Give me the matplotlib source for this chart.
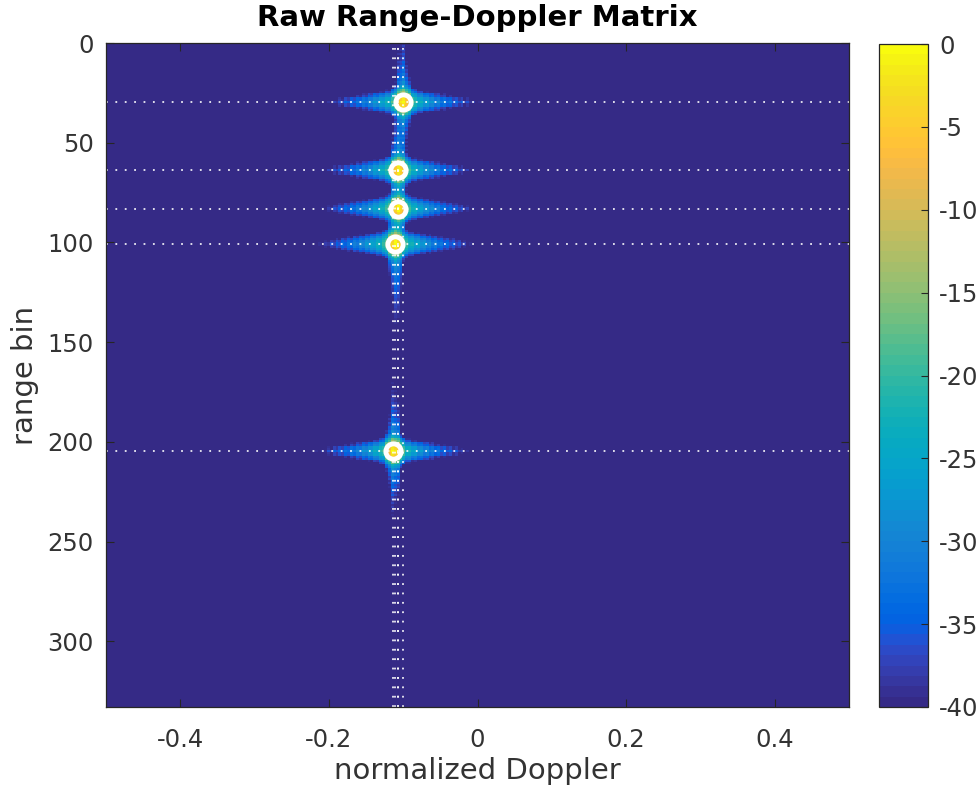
import numpy as np
import matplotlib
matplotlib.use("Agg")
import matplotlib.pyplot as plt
from matplotlib.colors import ListedColormap

plt.rcParams["axes.unicode_minus"] = False

# Detected targets: range bin, normalized Doppler, peak level (dB)
target_range = [29.5, 63.5, 83.0, 101.0, 204.5]
target_doppler = [-0.1007, -0.1066, -0.1073, -0.1110, -0.1133]
target_peak_db = [0.0, 0.0, 0.0, 0.0, 0.0]

n_range = 333
n_doppler = 256
db_floor, db_top = -40, 0

x_ticks = [-0.4, -0.2, 0, 0.2, 0.4]
x_tick_labels = ["-0.4", "-0.2", "0", "0.2", "0.4"]
y_ticks = [0, 50, 100, 150, 200, 250, 300]
cbar_ticks = [0, -5, -10, -15, -20, -25, -30, -35, -40]

# parula (64 levels)
parula = np.array([
    [0.2081, 0.1663, 0.5292], [0.2116, 0.1898, 0.5777], [0.2123, 0.2138, 0.6270],
    [0.2081, 0.2386, 0.6771], [0.1959, 0.2645, 0.7279], [0.1707, 0.2919, 0.7792],
    [0.1253, 0.3242, 0.8303], [0.0591, 0.3598, 0.8683], [0.0117, 0.3875, 0.8820],
    [0.0060, 0.4086, 0.8828], [0.0165, 0.4266, 0.8786], [0.0329, 0.4430, 0.8720],
    [0.0498, 0.4586, 0.8641], [0.0629, 0.4737, 0.8554], [0.0723, 0.4887, 0.8467],
    [0.0779, 0.5040, 0.8384], [0.0793, 0.5200, 0.8312], [0.0749, 0.5375, 0.8263],
    [0.0641, 0.5570, 0.8240], [0.0488, 0.5772, 0.8228], [0.0343, 0.5966, 0.8199],
    [0.0265, 0.6137, 0.8135], [0.0239, 0.6287, 0.8038], [0.0231, 0.6418, 0.7913],
    [0.0228, 0.6535, 0.7768], [0.0267, 0.6642, 0.7607], [0.0384, 0.6743, 0.7436],
    [0.0590, 0.6838, 0.7254], [0.0843, 0.6928, 0.7062], [0.1133, 0.7015, 0.6859],
    [0.1453, 0.7098, 0.6646], [0.1801, 0.7177, 0.6424], [0.2178, 0.7250, 0.6193],
    [0.2586, 0.7317, 0.5954], [0.3022, 0.7376, 0.5712], [0.3482, 0.7424, 0.5473],
    [0.3953, 0.7459, 0.5244], [0.4420, 0.7481, 0.5033], [0.4871, 0.7491, 0.4840],
    [0.5300, 0.7491, 0.4661], [0.5709, 0.7485, 0.4494], [0.6099, 0.7473, 0.4337],
    [0.6473, 0.7456, 0.4188], [0.6834, 0.7435, 0.4044], [0.7184, 0.7411, 0.3905],
    [0.7525, 0.7384, 0.3768], [0.7858, 0.7356, 0.3633], [0.8185, 0.7327, 0.3498],
    [0.8507, 0.7299, 0.3360], [0.8824, 0.7274, 0.3217], [0.9139, 0.7258, 0.3063],
    [0.9450, 0.7261, 0.2886], [0.9739, 0.7314, 0.2666], [0.9938, 0.7455, 0.2403],
    [0.9990, 0.7653, 0.2164], [0.9955, 0.7861, 0.1967], [0.9880, 0.8066, 0.1794],
    [0.9789, 0.8271, 0.1633], [0.9697, 0.8481, 0.1475], [0.9626, 0.8705, 0.1309],
    [0.9589, 0.8949, 0.1132], [0.9598, 0.9218, 0.0948], [0.9661, 0.9514, 0.0755],
    [0.9763, 0.9831, 0.0538]])
cmap = ListedColormap(parula, name="parula")


def doppler_response(dd):
    """Main lobe plus Doppler sidelobes (linear power)."""
    tail = 3.3e-6 / (dd ** 2 + 1e-4) * np.exp(-(dd / 0.1) ** 2)
    return np.exp(-(dd / 0.006) ** 2) + tail


def range_response(dr):
    """Main lobe plus range sidelobe tail (linear power)."""
    return np.exp(-(dr / 3.0) ** 2) + 0.23 * (1.0 + dr ** 2) ** -1.08


# Range-Doppler power map built from the point-target responses
dop = -0.5 + (np.arange(n_doppler) + 0.5) / n_doppler
rng = np.arange(n_range) + 0.5
D, R = np.meshgrid(dop, rng)
power = np.full(D.shape, 1e-9)
for r0, d0, pk in zip(target_range, target_doppler, target_peak_db):
    dd = D - d0
    dr = R - r0
    kd = np.rint(dd * n_doppler).astype(int)
    kr = np.rint(dr).astype(int)
    gd = doppler_response(dd) * np.where(kd % 2 == 0, 1.0, 0.65)
    gr = range_response(dr) * np.where(kr % 2 == 0, 1.0, 0.7)
    power += 10 ** (pk / 10) * gd * gr
rd_db = np.clip(10 * np.log10(power), db_floor, db_top)

text_col = "#333333"
fig = plt.figure(figsize=(9.8, 7.91), dpi=100)
ax = fig.add_axes([0.1082, 0.1062, 0.7582, 0.8394])
im = ax.imshow(rd_db, cmap=cmap, vmin=db_floor, vmax=db_top, aspect="auto",
               interpolation="nearest", extent=(-0.5, 0.5, n_range, 0))

dots = (0, (1.0, 4.2))
for r0 in target_range:
    ax.axhline(r0, color="white", lw=1.3, ls=dots, alpha=0.9)
for d0 in target_doppler:
    ax.axvline(d0, color="white", lw=1.3, ls=dots, alpha=0.9)
ax.plot(target_doppler, target_range, "o", mfc="none", mec="white", ms=11, mew=3.5)

ax.set_xlim(-0.5, 0.5)
ax.set_ylim(n_range, 0)
ax.set_xticks(x_ticks)
ax.set_xticklabels(x_tick_labels)
ax.set_yticks(y_ticks)
ax.tick_params(direction="in", length=6, width=0.8, top=True, right=True,
               labelsize=17.5, colors="#262626", labelcolor=text_col, pad=9)
ax.tick_params(axis="x", pad=15)
for s in ax.spines.values():
    s.set_color("#262626")
    s.set_linewidth(0.9)
ax.set_xlabel("normalized Doppler", fontsize=21, color=text_col, labelpad=4)
ax.set_ylabel("range bin", fontsize=21, color=text_col, labelpad=6)
ax.set_title("Raw Range-Doppler Matrix", fontsize=21, fontweight="bold", color="black", pad=12)

cax = fig.add_axes([0.8969, 0.1062, 0.05, 0.838])
cb = fig.colorbar(im, cax=cax, ticks=cbar_ticks)
cb.ax.tick_params(direction="in", length=5, width=0.8, labelsize=17.5,
                  colors="#262626", labelcolor=text_col, pad=8)
cb.outline.set_edgecolor("#262626")
cb.outline.set_linewidth(0.9)

fig.savefig("out.png", dpi=100)
